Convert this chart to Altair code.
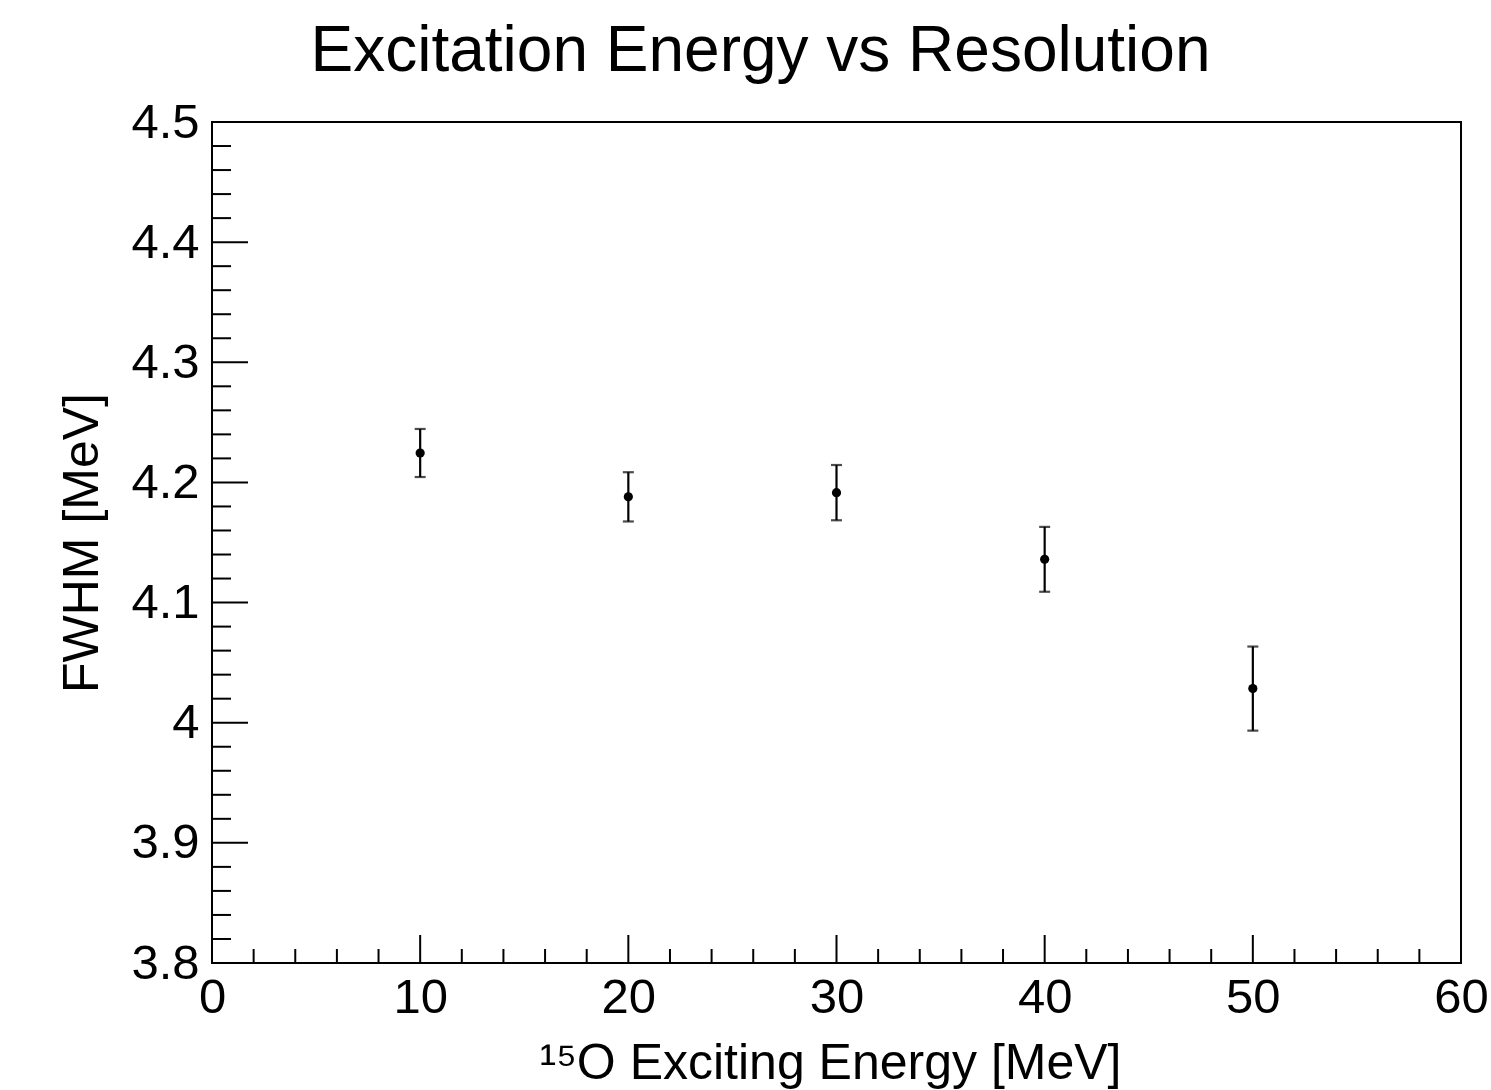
import altair as alt
import pandas as pd

# data
energy = [10, 20, 30, 40, 50]
fwhm = [4.2245, 4.188, 4.1915, 4.136, 4.0284]
err = [0.020, 0.0205, 0.023, 0.027, 0.035]

x_major = [0, 10, 20, 30, 40, 50, 60]
x_minor = [2, 4, 6, 8, 12, 14, 16, 18, 22, 24, 26, 28, 32, 34, 36, 38,
           42, 44, 46, 48, 52, 54, 56, 58]
y_major = [3.8, 3.9, 4.0, 4.1, 4.2, 4.3, 4.4, 4.5]
y_minor = [3.82, 3.84, 3.86, 3.88, 3.92, 3.94, 3.96, 3.98,
           4.02, 4.04, 4.06, 4.08, 4.12, 4.14, 4.16, 4.18,
           4.22, 4.24, 4.26, 4.28, 4.32, 4.34, 4.36, 4.38,
           4.42, 4.44, 4.46, 4.48]

W, H = 1249, 841
FONT = "Liberation Sans"

df = pd.DataFrame({"x": energy, "y": fwhm, "err": err})
df["lo"] = df["y"] - df["err"]
df["hi"] = df["y"] + df["err"]

xs = alt.Scale(domain=[0, 60], nice=False, zero=False)
ys = alt.Scale(domain=[3.8, 4.5], nice=False, zero=False)

x_axis = alt.Axis(values=x_major, ticks=False, tickSize=0, domain=False, grid=False,
                  labelFontSize=49, labelFont=FONT, labelColor="black", labelPadding=10,
                  labelFlush=False, labelOverlap=False,
                  title="¹⁵O Exciting Energy [MeV]", titleFont=FONT, titleFontSize=50,
                  titleFontWeight="normal", titleColor="black",
                  titleBaseline="alphabetic", titleY=115, titleX=618)
y_axis = alt.Axis(values=y_major, format="~g", ticks=False, tickSize=0, domain=False, grid=False,
                  labelFontSize=49, labelFont=FONT, labelColor="black", labelPadding=13,
                  labelFlush=False, labelOverlap=False,
                  title="FWHM [MeV]", titleFont=FONT, titleFontSize=50,
                  titleFontWeight="normal", titleColor="black",
                  titleBaseline="alphabetic", titleX=-115, titleAngle=-90)

points = alt.Chart(df).mark_circle(size=85, color="black", opacity=1).encode(
    x=alt.X("x:Q", scale=xs, axis=x_axis),
    y=alt.Y("y:Q", scale=ys, axis=y_axis),
)
bars = alt.Chart(df).mark_rule(color="black", strokeWidth=2.2).encode(
    x="x:Q", y="lo:Q", y2="hi:Q"
)
cap_lo = alt.Chart(df).mark_tick(color="black", thickness=2.2, size=11, orient="horizontal").encode(
    x="x:Q", y="lo:Q"
)
cap_hi = alt.Chart(df).mark_tick(color="black", thickness=2.2, size=11, orient="horizontal").encode(
    x="x:Q", y="hi:Q"
)

xmaj = alt.Chart(pd.DataFrame({"v": x_major})).mark_rule(color="black", strokeWidth=2).encode(
    x="v:Q", y=alt.value(H), y2=alt.value(H - 28)
)
xmin = alt.Chart(pd.DataFrame({"v": x_minor})).mark_rule(color="black", strokeWidth=2).encode(
    x="v:Q", y=alt.value(H), y2=alt.value(H - 14)
)
ymaj = alt.Chart(pd.DataFrame({"v": y_major})).mark_rule(color="black", strokeWidth=2).encode(
    y="v:Q", x=alt.value(0), x2=alt.value(36)
)
ymin = alt.Chart(pd.DataFrame({"v": y_minor})).mark_rule(color="black", strokeWidth=2).encode(
    y="v:Q", x=alt.value(0), x2=alt.value(19)
)

chart = alt.layer(points, bars, cap_lo, cap_hi, xmaj, xmin, ymaj, ymin).properties(
    width=W, height=H,
    autosize=alt.AutoSizeParams(type="none"),
    padding={"left": 212, "top": 122, "right": 30, "bottom": 127},
    background="white",
    title=alt.TitleParams(text="Excitation Energy vs Resolution", font=FONT, fontSize=64,
                          fontWeight="normal", color="black", anchor="middle",
                          dx=-76, offset=14),
).configure_view(stroke="black", strokeWidth=2)

chart.save("out.html", embed_options={"renderer": "svg", "actions": False})
